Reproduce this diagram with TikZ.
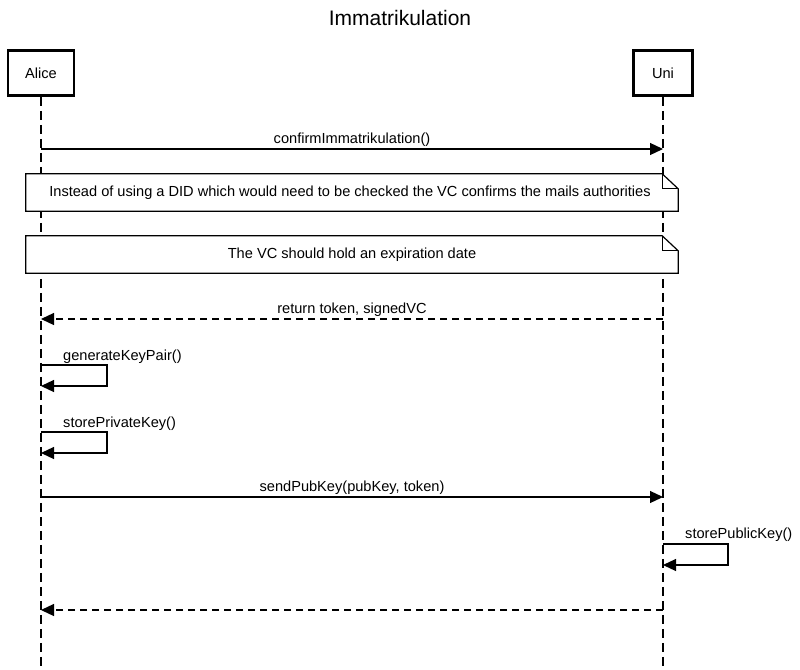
\documentclass[tikz,border=0pt]{standalone}
\usepackage{fontspec}
\setmainfont{Liberation Sans}
\usetikzlibrary{arrows.meta}
\begin{document}
\begin{tikzpicture}[x=1pt,y=-1pt,
  actor/.style={draw,line width=2.5pt,fill=white,inner sep=0pt,font=\fontsize{14.6}{17}\selectfont},
  lifeline/.style={line width=1.2pt,dash pattern=on 9pt off 5pt},
  msg/.style={line width=1.2pt,-{Triangle[length=13pt,width=12pt]}},
  ret/.style={msg,dash pattern=on 7pt off 5pt},
  lbl/.style={font=\fontsize{14.6}{17}\selectfont,inner sep=0pt},
  msglbl/.style={lbl,anchor=base,yshift=6pt},
  notebox/.style={inner sep=0pt,font=\fontsize{14.6}{17}\selectfont},
  noteline/.style={line width=1.2pt,fill=white}]
\useasboundingbox (0,0) rectangle (800,669);

% title
\node[font=\fontsize{21}{25}\selectfont] (title) at (400,18) {Immatrikulation};

% participants
\node[actor,minimum width=66pt,minimum height=45pt] (alice) at (41,73) {Alice};
\node[actor,minimum width=59pt,minimum height=45pt] (uni) at (663,73) {Uni};
\coordinate (aliceend) at (41,667);
\coordinate (uniend) at (663,667);
\draw[lifeline] (alice.south) -- (aliceend);
\draw[lifeline] (uni.south) -- (uniend);

% confirmImmatrikulation()
\coordinate (m1a) at (41,149);
\coordinate (m1u) at (663,149);
\draw[msg] (m1a) -- node[msglbl] {confirmImmatrikulation()} (m1u);

% notes
\node[notebox,minimum width=652pt,minimum height=37pt] (n1) at (352,192.5) {};
\draw[noteline] (n1.north west) -- ([xshift=-16pt]n1.north east) -- ([yshift=-15pt]n1.north east) -- (n1.south east) -- (n1.south west) -- cycle;
\draw[line width=1.2pt] ([xshift=-16pt]n1.north east) -- ([xshift=-16pt,yshift=-15pt]n1.north east) -- ([yshift=-15pt]n1.north east);
\node[lbl,anchor=base] (n1t) at (350,196) {Instead of using a DID which would need to be checked the VC confirms the mails authorities};

\node[notebox,minimum width=652pt,minimum height=37pt] (n2) at (352,254.5) {};
\draw[noteline] (n2.north west) -- ([xshift=-16pt]n2.north east) -- ([yshift=-15pt]n2.north east) -- (n2.south east) -- (n2.south west) -- cycle;
\draw[line width=1.2pt] ([xshift=-16pt]n2.north east) -- ([xshift=-16pt,yshift=-15pt]n2.north east) -- ([yshift=-15pt]n2.north east);
\node[lbl,anchor=base] (n2t) at (352,258) {The VC should hold an expiration date};

% return token, signedVC
\coordinate (m2u) at (663,319);
\coordinate (m2a) at (41,319);
\draw[ret] (m2u) -- node[msglbl] {return token, signedVC} (m2a);

% generateKeyPair()
\coordinate (s1a) at (41,365);
\coordinate (s1b) at (107,365);
\coordinate (s1c) at (107,386);
\coordinate (s1d) at (41,386);
\draw[msg] (s1a) -- (s1b) -- (s1c) -- (s1d);
\node[lbl,anchor=base west] (s1t) at (63,360) {generateKeyPair()};

% storePrivateKey()
\coordinate (s2a) at (41,432);
\coordinate (s2b) at (107,432);
\coordinate (s2c) at (107,453);
\coordinate (s2d) at (41,453);
\draw[msg] (s2a) -- (s2b) -- (s2c) -- (s2d);
\node[lbl,anchor=base west] (s2t) at (63,427) {storePrivateKey()};

% sendPubKey(pubKey, token)
\coordinate (m3a) at (41,497);
\coordinate (m3u) at (663,497);
\draw[msg] (m3a) -- node[msglbl] {sendPubKey(pubKey, token)} (m3u);

% storePublicKey()
\coordinate (s3a) at (663,544);
\coordinate (s3b) at (728,544);
\coordinate (s3c) at (728,565);
\coordinate (s3d) at (663,565);
\draw[msg] (s3a) -- (s3b) -- (s3c) -- (s3d);
\node[lbl,anchor=base west] (s3t) at (685,538) {storePublicKey()};

% final return
\coordinate (m4u) at (663,610);
\coordinate (m4a) at (41,610);
\draw[ret] (m4u) -- (m4a);
\end{tikzpicture}
\end{document}
